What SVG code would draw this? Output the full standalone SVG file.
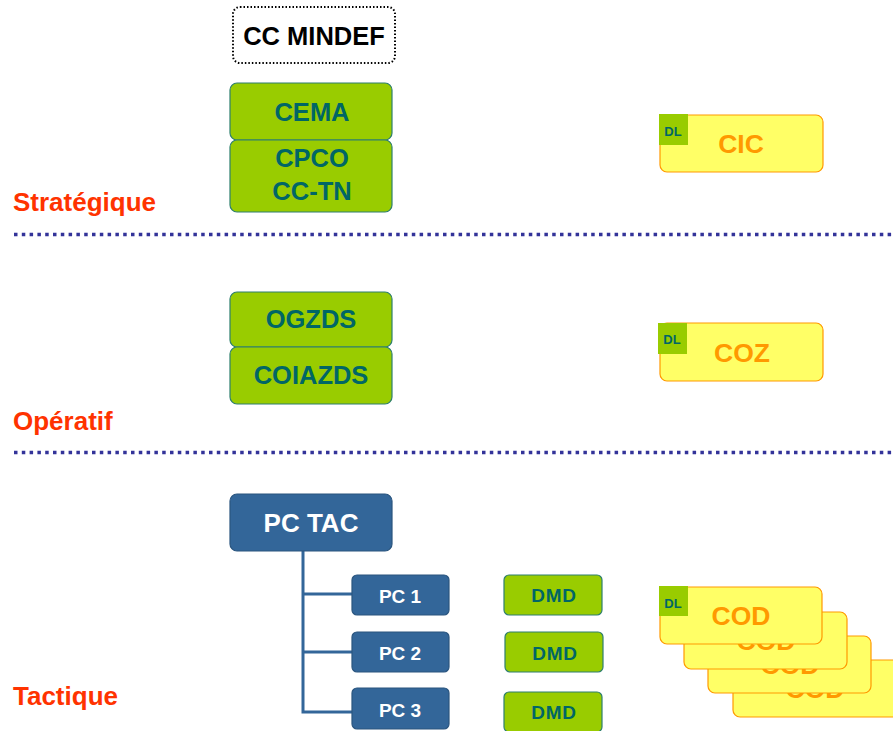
<svg xmlns="http://www.w3.org/2000/svg" width="893" height="731" viewBox="0 0 893 731">
<style>
text{font-family:"Liberation Sans",Arial,sans-serif;font-weight:bold;text-anchor:middle}
.g{fill:#99CC00;stroke:#2E7F6E;stroke-width:1.2}
.gt{fill:#006666;font-size:25.5px}
.y{fill:#FFFF66;stroke:#FF9900;stroke-width:1.2}
.yt{fill:#FF9900;font-size:26.5px}
.dl{fill:#99CC00}
.dlt{fill:#006666;font-size:13px}
.b{fill:#336699;stroke:#2A557F;stroke-width:1.2}
.bt{fill:#FFFFFF}
.lvl{fill:#FF3300;font-size:26px;text-anchor:start}
.sep{stroke:#333399;stroke-width:3.5;stroke-dasharray:3.5 4.3;fill:none}
.dmd{fill:#006666;font-size:19px;letter-spacing:0.8px}
.conn{stroke:#336699;stroke-width:3;fill:none}
</style>
<rect width="893" height="731" fill="#FFFFFF"/>
<g id="separators">
<line class="sep" x1="14" y1="234.5" x2="893" y2="234.5"/>
<line class="sep" x1="14" y1="452.5" x2="893" y2="452.5"/>
</g>
<g id="levels">
<text class="lvl" x="13" y="211">Stratégique</text>
<text class="lvl" x="13" y="430">Opératif</text>
<text class="lvl" x="13" y="705">Tactique</text>
</g>
<g id="cc-mindef">
<rect x="233" y="7" width="162" height="56" rx="7" fill="#FFFFFF" stroke="#000000" stroke-width="2" stroke-dasharray="1.5 2"/>
<text x="314" y="45" font-size="25.5" fill="#000000">CC MINDEF</text>
</g>
<g id="cema">
<rect class="g" x="230" y="83" width="162" height="57" rx="7"/>
<text class="gt" x="312" y="121">CEMA</text>
</g>
<g id="cpco">
<rect class="g" x="230" y="140" width="162" height="72" rx="7"/>
<text class="gt" x="312" y="167">CPCO</text>
<text class="gt" x="312" y="200">CC-TN</text>
</g>
<g id="ogzds">
<rect class="g" x="230" y="292" width="162" height="55" rx="7"/>
<text class="gt" x="311" y="328">OGZDS</text>
</g>
<g id="coiazds">
<rect class="g" x="230" y="347" width="162" height="57" rx="7"/>
<text class="gt" x="311" y="384">COIAZDS</text>
</g>
<g id="cic">
<rect class="y" x="660" y="115" width="163" height="57" rx="7"/>
<text class="yt" x="741" y="153">CIC</text>
<rect class="dl" x="659" y="114" width="29" height="31"/>
<text class="dlt" x="673" y="136">DL</text>
</g>
<g id="coz">
<rect class="y" x="660" y="323" width="163" height="58" rx="7"/>
<text class="yt" x="742" y="362">COZ</text>
<rect class="dl" x="658" y="323" width="29" height="31"/>
<text class="dlt" x="672" y="344">DL</text>
</g>
<g id="connectors">
<path class="conn" d="M303 551 V712 H352 M303 594 H352 M303 652 H352"/>
</g>
<g id="pc-tac">
<rect class="b" x="230" y="494" width="162" height="57" rx="7"/>
<text class="bt" x="311" y="532" font-size="26">PC TAC</text>
</g>
<g id="pc1">
<rect class="b" x="352" y="575" width="97" height="40" rx="5"/>
<text class="bt" x="400" y="603" font-size="19">PC 1</text>
</g>
<g id="pc2">
<rect class="b" x="352" y="632" width="97" height="40" rx="5"/>
<text class="bt" x="400" y="660" font-size="19">PC 2</text>
</g>
<g id="pc3">
<rect class="b" x="352" y="688" width="97" height="41" rx="5"/>
<text class="bt" x="400" y="717" font-size="19">PC 3</text>
</g>
<g id="dmd1">
<rect class="g" x="504" y="575" width="98" height="40" rx="5"/>
<text class="dmd" x="554" y="602">DMD</text>
</g>
<g id="dmd2">
<rect class="g" x="505" y="632" width="98" height="40" rx="5"/>
<text class="dmd" x="555" y="660">DMD</text>
</g>
<g id="dmd3">
<rect class="g" x="504" y="692" width="98" height="40" rx="5"/>
<text class="dmd" x="554" y="719">DMD</text>
</g>
<g id="cod4">
<rect class="y" x="733" y="660" width="170" height="57" rx="7"/>
<text class="yt" x="815" y="698">COD</text>
</g>
<g id="cod3">
<rect class="y" x="708" y="636" width="163" height="57" rx="7"/>
<text class="yt" x="790" y="674">COD</text>
</g>
<g id="cod2">
<rect class="y" x="684" y="612" width="163" height="57" rx="7"/>
<text class="yt" x="766" y="650">COD</text>
</g>
<g id="cod1">
<rect class="y" x="660" y="587" width="162" height="57" rx="7"/>
<text class="yt" x="741" y="625">COD</text>
<rect class="dl" x="659" y="586" width="29" height="30"/>
<text class="dlt" x="673" y="608">DL</text>
</g>
</svg>
